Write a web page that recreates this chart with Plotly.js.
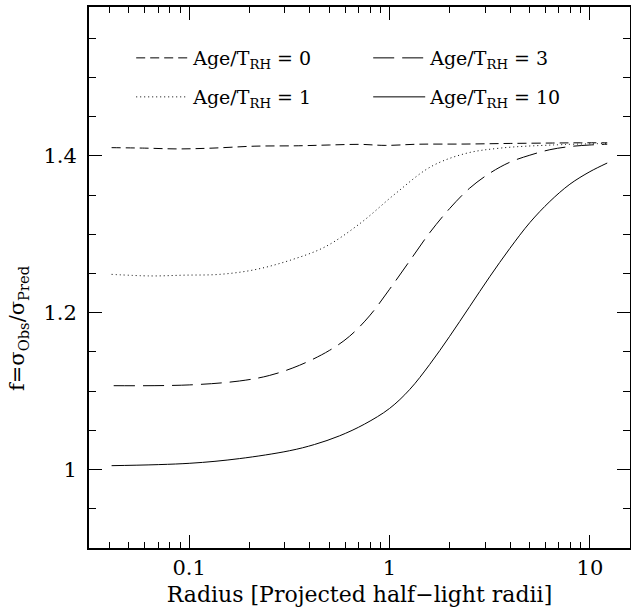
<!DOCTYPE html>
<html>
<head>
<meta charset="utf-8">
<script src="https://cdn.plot.ly/plotly-3.0.1.min.js"></script>
<style>html,body{margin:0;padding:0;background:#fff;}#chart{width:631px;height:607px;}</style>
</head>
<body>
<div id="chart"></div>
<script>
// Radius in projected half-light radii, and f = sigma_obs / sigma_pred
var rAge0 = [0.041, 0.06, 0.088, 0.13, 0.213, 0.35, 0.5, 0.713, 0.95, 1.4, 2.38, 4.0, 6.5, 9.0, 12.2];
var fAge0 = [1.4106, 1.4100, 1.4090, 1.4100, 1.4125, 1.4130, 1.4140, 1.4148, 1.4135, 1.4150, 1.4152, 1.4160, 1.4165, 1.4168, 1.4168];

var rAge1 = [0.041, 0.064, 0.095, 0.142, 0.213, 0.319, 0.476, 0.713, 1.07, 1.6, 2.38, 3.56, 6.5, 12.2];
var fAge1 = [1.249, 1.247, 1.248, 1.249, 1.255, 1.267, 1.284, 1.314, 1.352, 1.386, 1.403, 1.410, 1.414, 1.416];

var rAge3 = [0.042, 0.1, 0.178, 0.251, 0.355, 0.501, 0.631, 0.794, 1.0, 1.259, 1.585, 1.995, 2.512, 3.162, 3.981, 5.012, 6.31, 7.943, 10.0, 12.2];
var fAge3 = [1.107, 1.108, 1.113, 1.120, 1.133, 1.152, 1.170, 1.196, 1.230, 1.266, 1.302, 1.333, 1.359, 1.378, 1.392, 1.401, 1.408, 1.412, 1.414, 1.415];

var rAge10 = [0.041, 0.1, 0.178, 0.316, 0.422, 0.562, 0.75, 1.0, 1.259, 1.585, 1.995, 2.512, 3.162, 3.981, 5.012, 6.31, 7.943, 10.0, 12.2];
var fAge10 = [1.005, 1.008, 1.014, 1.024, 1.032, 1.043, 1.058, 1.078, 1.102, 1.134, 1.170, 1.208, 1.246, 1.282, 1.315, 1.342, 1.364, 1.380, 1.391];

var legendNames = ['Age/T<sub>RH</sub> = 0', 'Age/T<sub>RH</sub> = 3', 'Age/T<sub>RH</sub> = 1', 'Age/T<sub>RH</sub> = 10'];
var yTitle = 'f=\u03c3<sub>Obs</sub>/\u03c3<sub>Pred</sub>';
var xTitle = 'Radius [Projected half\u2212light radii]';

var FONT = 'DejaVu Serif';

var traces = [
  {x: rAge0, y: fAge0, name: legendNames[0], legend: 'legend', mode: 'lines', line: {color: '#000', width: 1, dash: '9px,5px', shape: 'spline'}},
  {x: rAge3, y: fAge3, name: legendNames[1], legend: 'legend', mode: 'lines', line: {color: '#000', width: 1, dash: '21px,8px', shape: 'spline'}},
  {x: rAge1, y: fAge1, name: legendNames[2], legend: 'legend2', mode: 'lines', line: {color: '#000', width: 1, dash: '1px,3px', shape: 'spline'}},
  {x: rAge10, y: fAge10, name: legendNames[3], legend: 'legend2', mode: 'lines', line: {color: '#000', width: 1, shape: 'spline'}}
];

var legendBase = {
  orientation: 'h', xanchor: 'left', yanchor: 'middle',
  entrywidth: 170, entrywidthmode: 'pixels', itemwidth: 52,
  bgcolor: 'rgba(0,0,0,0)', font: {family: FONT, size: 19, color: '#000'}
};

var layout = {
  width: 631, height: 607,
  margin: {l: 89, r: 1, t: 7, b: 59},
  paper_bgcolor: '#fff', plot_bgcolor: '#fff',
  font: {family: FONT, size: 20, color: '#000'},
  showlegend: true,
  legend: Object.assign({}, legendBase, {x: 0.078, y: 0.9057}),
  legend2: Object.assign({}, legendBase, {x: 0.078, y: 0.8336}),
  xaxis: {
    type: 'log', range: [-1.5, 1.2], dtick: 1,
    showline: true, linewidth: 2, linecolor: '#000', mirror: 'ticks',
    ticks: 'inside', ticklen: 13, tickwidth: 1, tickcolor: '#000',
    showgrid: false, zeroline: false,
    tickfont: {family: FONT, size: 21},
    minor: {ticks: 'inside', ticklen: 6, tickwidth: 1, tickcolor: '#000', dtick: 'D1', showgrid: false},
    title: {text: xTitle, font: {family: FONT, size: 22}, standoff: 10}
  },
  yaxis: {
    range: [0.9, 1.59], tick0: 0, dtick: 0.2,
    showline: true, linewidth: 2, linecolor: '#000', mirror: 'ticks',
    ticks: 'inside', ticklen: 13, tickwidth: 1, tickcolor: '#000',
    showgrid: false, zeroline: false,
    tickfont: {family: FONT, size: 21}, ticklabelstandoff: 6,
    minor: {ticks: 'inside', ticklen: 7, tickwidth: 1, tickcolor: '#000', dtick: 0.05, showgrid: false}
  },
  annotations: [{
    text: yTitle, xref: 'paper', yref: 'paper', x: -0.131, y: 0.405,
    xanchor: 'center', yanchor: 'middle', textangle: -90, showarrow: false,
    font: {family: FONT, size: 21, color: '#000'}
  }]
};

Plotly.newPlot('chart', traces, layout, {displayModeBar: false, staticPlot: true});
</script>
</body>
</html>
